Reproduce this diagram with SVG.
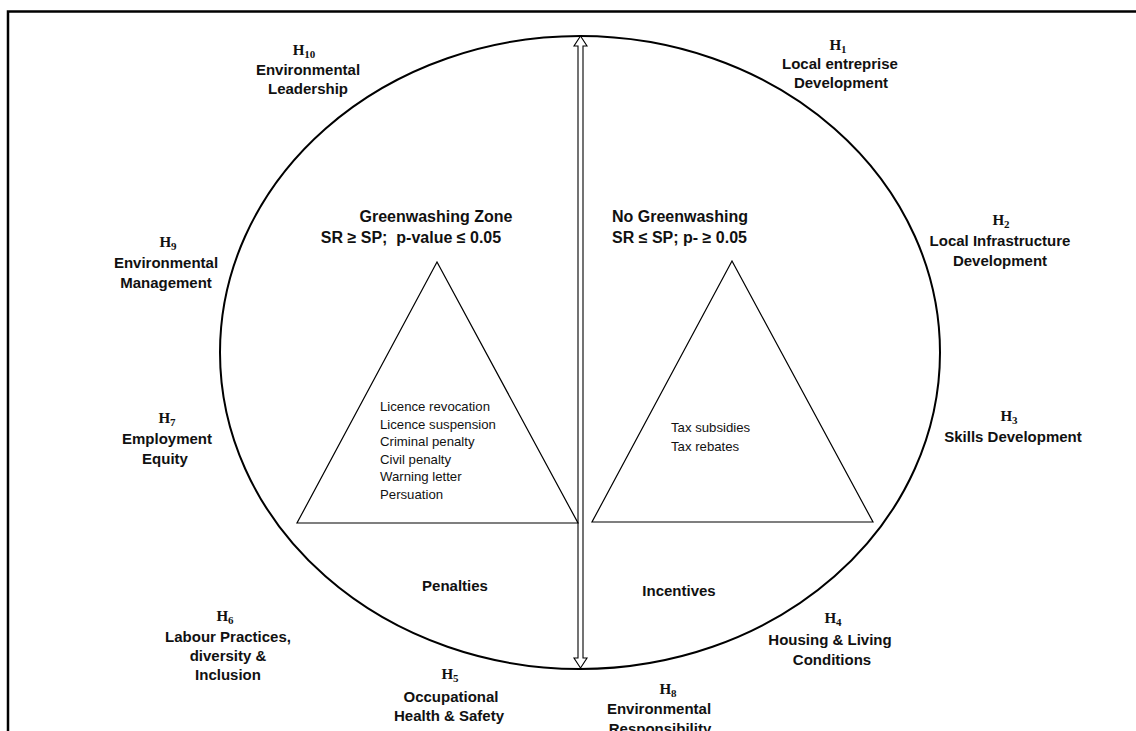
<svg xmlns="http://www.w3.org/2000/svg" width="1136" height="731" viewBox="0 0 1136 731">
  <style>
    .frame { fill: none; stroke: #000; stroke-width: 2.5; }
    .outline { fill: none; stroke: #000; stroke-width: 2; }
    .tri { fill: #fff; stroke: #000; stroke-width: 1.2; }
    .arrow { fill: #fff; stroke: #000; stroke-width: 1.1; }
    .lbl { font-family: "Liberation Sans", Arial, sans-serif; font-weight: bold; font-size: 15px; fill: #111; text-anchor: middle; }
    .hyp { font-family: "Liberation Serif", "Times New Roman", serif; font-weight: bold; font-size: 15px; fill: #111; text-anchor: middle; }
    .sub { font-size: 11px; }
    .zone { font-family: "Liberation Sans", Arial, sans-serif; font-weight: bold; font-size: 16px; fill: #111; }
    .list { font-family: "Liberation Sans", Arial, sans-serif; font-size: 13.2px; fill: #111; }
  </style>

  <!-- outer frame (only top and left edges fall inside the canvas) -->
  <path class="frame" d="M8,731 L8,11.5 L1136,11.5"/>

  <!-- main ellipse -->
  <g id="zone-ellipse">
    <ellipse class="outline" cx="580" cy="352.5" rx="360" ry="316.5"/>
  </g>

  <g id="connectors">
    <!-- hollow double-headed divider arrow -->
    <path class="arrow" d="M580.5,36 L587,46 L583,46 L583,658 L587,658 L580.5,668 L574,658 L578,658 L578,46 L574,46 Z"/>
  </g>

  <!-- left half: greenwashing zone -->
  <g id="greenwashing-zone">
    <text class="zone" x="436" y="222" text-anchor="middle">Greenwashing Zone</text>
    <text class="zone" x="411" y="243" text-anchor="middle" xml:space="preserve">SR ≥ SP;  p-value ≤ 0.05</text>
  </g>
  <g id="penalty-triangle">
    <polygon class="tri" points="437,262 297,523 578,523"/>
    <text class="list" x="380" y="411">Licence revocation</text>
    <text class="list" x="380" y="428.6">Licence suspension</text>
    <text class="list" x="380" y="446.2">Criminal penalty</text>
    <text class="list" x="380" y="463.8">Civil penalty</text>
    <text class="list" x="380" y="481.4">Warning letter</text>
    <text class="list" x="380" y="499">Persuation</text>
  </g>
  <g id="penalties">
    <text class="lbl" x="455" y="591">Penalties</text>
  </g>

  <!-- right half: no greenwashing -->
  <g id="no-greenwashing">
    <text class="zone" x="612" y="222">No Greenwashing</text>
    <text class="zone" x="612" y="243">SR ≤ SP; p- ≥ 0.05</text>
  </g>
  <g id="incentive-triangle">
    <polygon class="tri" points="732,261 592,522 873,522"/>
    <text class="list" x="671" y="432">Tax subsidies</text>
    <text class="list" x="671" y="451">Tax rebates</text>
  </g>
  <g id="incentives">
    <text class="lbl" x="679" y="596">Incentives</text>
  </g>

  <!-- hypotheses around the ellipse -->
  <g id="h1">
    <text class="hyp" x="838" y="50">H<tspan class="sub" dy="3">1</tspan></text>
    <text class="lbl" x="840" y="69">Local entreprise</text>
    <text class="lbl" x="841" y="88">Development</text>
  </g>
  <g id="h2">
    <text class="hyp" x="1001" y="225">H<tspan class="sub" dy="3">2</tspan></text>
    <text class="lbl" x="1000" y="246">Local Infrastructure</text>
    <text class="lbl" x="1000" y="266">Development</text>
  </g>
  <g id="h3">
    <text class="hyp" x="1009" y="421">H<tspan class="sub" dy="3">3</tspan></text>
    <text class="lbl" x="1013" y="442">Skills Development</text>
  </g>
  <g id="h4">
    <text class="hyp" x="833" y="623">H<tspan class="sub" dy="3">4</tspan></text>
    <text class="lbl" x="830" y="645">Housing &amp; Living</text>
    <text class="lbl" x="832" y="665">Conditions</text>
  </g>
  <g id="h8">
    <text class="hyp" x="668" y="694">H<tspan class="sub" dy="3">8</tspan></text>
    <text class="lbl" x="659" y="714">Environmental</text>
    <text class="lbl" x="660" y="734">Responsibility</text>
  </g>
  <g id="h5">
    <text class="hyp" x="450" y="679">H<tspan class="sub" dy="3">5</tspan></text>
    <text class="lbl" x="451" y="702">Occupational</text>
    <text class="lbl" x="449" y="721">Health &amp; Safety</text>
  </g>
  <g id="h6">
    <text class="hyp" x="225" y="621">H<tspan class="sub" dy="3">6</tspan></text>
    <text class="lbl" x="228" y="642">Labour Practices,</text>
    <text class="lbl" x="228" y="661">diversity &amp;</text>
    <text class="lbl" x="228" y="680">Inclusion</text>
  </g>
  <g id="h7">
    <text class="hyp" x="167" y="423">H<tspan class="sub" dy="3">7</tspan></text>
    <text class="lbl" x="167" y="444">Employment</text>
    <text class="lbl" x="165" y="464">Equity</text>
  </g>
  <g id="h9">
    <text class="hyp" x="168" y="247">H<tspan class="sub" dy="3">9</tspan></text>
    <text class="lbl" x="166" y="268">Environmental</text>
    <text class="lbl" x="166" y="288">Management</text>
  </g>
  <g id="h10">
    <text class="hyp" x="304" y="55">H<tspan class="sub" dy="3">10</tspan></text>
    <text class="lbl" x="308" y="75">Environmental</text>
    <text class="lbl" x="308" y="94">Leadership</text>
  </g>
</svg>
